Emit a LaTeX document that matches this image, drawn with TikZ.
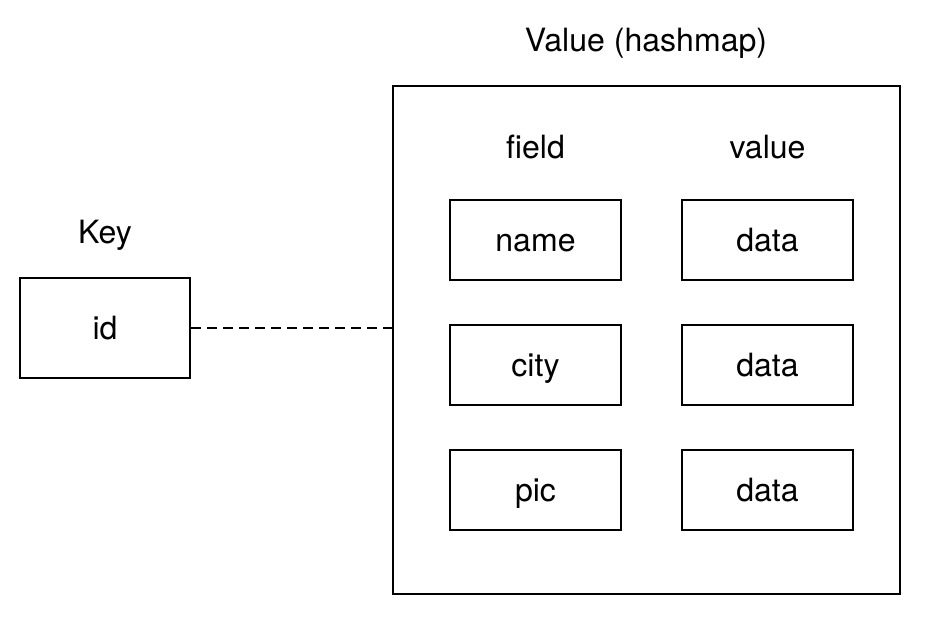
\documentclass[tikz,border=0pt]{standalone}
\usepackage{fontspec}
\setmainfont{TeX Gyre Heros}
\usepackage{tikz}
\usetikzlibrary{positioning,calc}

\begin{document}
\begin{tikzpicture}[
  outerbox/.style={
    draw=black,
    line width=1.4pt,
    minimum width=12.675cm,
    minimum height=12.7cm,
    inner sep=0pt
  },
  cellbox/.style={
    draw=black,
    line width=1.4pt,
    minimum width=4.275cm,
    minimum height=2cm,
    inner sep=0pt,
    text height=0.7cm,
    text depth=0.1cm,
    font=\fontsize{22.8}{27}\selectfont
  },
  keybox/.style={
    draw=black,
    line width=1.4pt,
    minimum width=4.25cm,
    minimum height=2.5cm,
    inner sep=0pt,
    text height=0.7cm,
    text depth=0.1cm,
    font=\fontsize{22.8}{27}\selectfont
  },
  headlabel/.style={
    font=\fontsize{22.8}{27}\selectfont,
    text height=0.7cm,
    text depth=0.1cm,
    inner sep=0pt
  },
  linkline/.style={
    line width=1.4pt,
    dash pattern=on 0.25cm off 0.15cm
  }
]

\useasboundingbox (0,0) rectangle (23.2,15.55);

% value side
\node[outerbox] (hash) at (16.1625,7.05) {};
\node[headlabel] (hashlabel) at (16.15,14.55) {Value (hashmap)};

\node[headlabel] (fieldhead) at (13.3875,11.875) {field};
\node[headlabel] (valuehead) at (19.1875,11.875) {value};

\node[cellbox] (fieldname) at (13.3875,9.55) {name};
\node[cellbox] (fieldcity) at (13.3875,6.425) {city};
\node[cellbox] (fieldpic)  at (13.3875,3.3) {pic};

\node[cellbox] (dataname) at (19.1875,9.55) {data};
\node[cellbox] (datacity) at (19.1875,6.425) {data};
\node[cellbox] (datapic)  at (19.1875,3.3) {data};

% key side
\node[headlabel] (keylabel) at (2.625,9.75) {Key};
\node[keybox] (id) at (2.625,7.35) {id};

\draw[linkline] (id.east) -- (id.east -| hash.west);

\end{tikzpicture}
\end{document}
